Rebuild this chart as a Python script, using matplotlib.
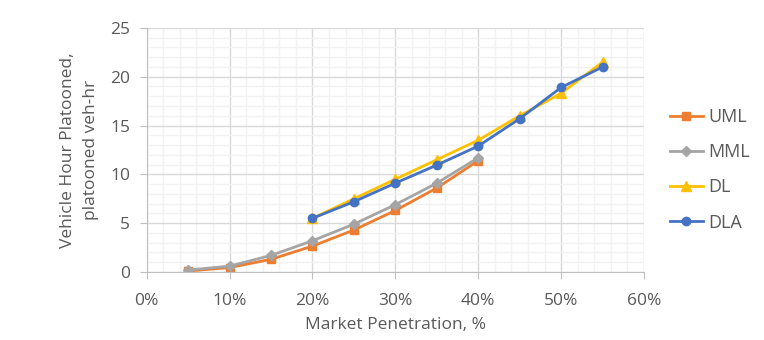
import numpy as np
import matplotlib.pyplot as plt
from matplotlib.ticker import MultipleLocator, PercentFormatter

plt.rcParams['font.family'] = ['Open Sans', 'DejaVu Sans']

# market penetration (%)
pen_uml = [5, 10, 15, 20, 25, 30, 35, 40]
pen_dl = [20, 25, 30, 35, 40, 45, 50, 55]

uml = [0.1, 0.45, 1.3, 2.65, 4.3, 6.3, 8.6, 11.4]
mml = [0.2, 0.6, 1.7, 3.2, 4.9, 6.9, 9.1, 11.7]
dl = [5.5, 7.5, 9.5, 11.5, 13.5, 16.0, 18.3, 21.5]
dla = [5.5, 7.2, 9.1, 10.95, 12.9, 15.7, 18.9, 21.0]

txt = '#595959'

fig = plt.figure(figsize=(7.64, 3.4), dpi=100)
ax = fig.add_axes([0.192, 0.2, 0.651, 0.718])

ax.plot(pen_uml, uml, color='#ED7D31', marker='s', markersize=6, lw=2, label='UML')
ax.plot(pen_uml, mml, color='#A5A5A5', marker='D', markersize=5, lw=2, label='MML')
ax.plot(pen_dl, dl, color='#FFC000', marker='^', markersize=7, lw=2, label='DL')
ax.plot(pen_dl, dla, color='#4472C4', marker='o', markersize=6, lw=2, label='DLA')

ax.set_xlim(0, 60)
ax.set_ylim(0, 25)
ax.xaxis.set_major_locator(MultipleLocator(10))
ax.xaxis.set_minor_locator(MultipleLocator(2))
ax.yaxis.set_major_locator(MultipleLocator(5))
ax.yaxis.set_minor_locator(MultipleLocator(1))
ax.xaxis.set_major_formatter(PercentFormatter(decimals=0))
ax.grid(which='major', color='#D9D9D9', lw=1)
ax.grid(which='minor', color='#F2F2F2', lw=1)
ax.set_axisbelow(True)
for s in ['top', 'right']:
    ax.spines[s].set_visible(False)
for s in ['left', 'bottom']:
    ax.spines[s].set_color('#BFBFBF')
ax.tick_params(which='major', colors='#BFBFBF', labelcolor=txt, labelsize=12.5,
               length=5, pad=7)
ax.tick_params(axis='x', pad=10)
ax.tick_params(which='minor', length=0)

ax.set_xlabel('Market Penetration, %', color=txt, fontsize=12.5, labelpad=6)
ax.set_ylabel('Vehicle Hour Platooned,\nplatooned veh-hr', color=txt, fontsize=12.5,
              labelpad=8, linespacing=1.6)

leg = ax.legend(loc='upper left', bbox_to_anchor=(1.02, 0.738), frameon=False,
                fontsize=13, labelspacing=0.95, handlelength=1.8, handletextpad=0.3)
for t in leg.get_texts():
    t.set_color(txt)

fig.savefig('out.png', dpi=100)
